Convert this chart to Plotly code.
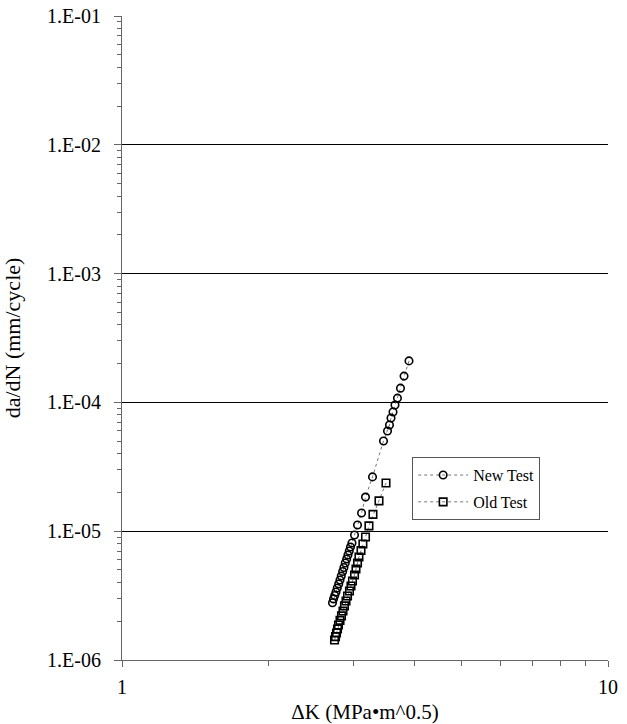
import plotly.graph_objects as go

# Fatigue crack growth rate data: stress intensity range vs growth rate
new_dk = [3.895, 3.805, 3.741, 3.688, 3.645, 3.611, 3.577, 3.551, 3.518, 3.452,
          3.277, 3.170, 3.111, 3.052, 3.009, 2.973, 2.952, 2.935, 2.917, 2.899,
          2.880, 2.862, 2.845, 2.826, 2.809, 2.792, 2.773, 2.756, 2.740, 2.724, 2.711]
new_dadn = [2.10e-4, 1.60e-4, 1.29e-4, 1.08e-4, 9.55e-5, 8.42e-5, 7.57e-5, 6.68e-5,
            6.00e-5, 5.02e-5, 2.64e-5, 1.84e-5, 1.385e-5, 1.117e-5, 9.34e-6,
            8.10e-6, 7.54e-6, 7.02e-6, 6.53e-6, 6.08e-6, 5.66e-6, 5.23e-6,
            4.87e-6, 4.49e-6, 4.18e-6, 3.89e-6, 3.62e-6, 3.37e-6, 3.17e-6,
            2.98e-6, 2.78e-6]

old_dk = [3.493, 3.379, 3.284, 3.222, 3.170, 3.131, 3.103, 3.073, 3.052, 3.030,
          3.009, 2.980, 2.959, 2.938, 2.911, 2.890, 2.869, 2.849, 2.829, 2.809,
          2.789, 2.776, 2.763, 2.750, 2.737]
old_dadn = [2.37e-5, 1.72e-5, 1.35e-5, 1.10e-5, 9.01e-6, 7.96e-6, 7.08e-6, 6.31e-6,
            5.66e-6, 5.09e-6, 4.57e-6, 4.11e-6, 3.75e-6, 3.43e-6, 3.14e-6, 2.87e-6,
            2.63e-6, 2.40e-6, 2.20e-6, 2.03e-6, 1.87e-6, 1.74e-6, 1.62e-6, 1.52e-6,
            1.43e-6]

y_tickvals = [1e-6, 1e-5, 1e-4, 1e-3, 1e-2, 1e-1]
y_ticktext = ["1.E-06", "1.E-05", "1.E-04", "1.E-03", "1.E-02", "1.E-01"]
x_tickvals = [1, 10]
x_ticktext = ["1", "10"]

FONT = "serif"

fig = go.Figure()
fig.add_trace(go.Scatter(
    x=new_dk, y=new_dadn, name="New Test", mode="lines+markers",
    legendgroup="a",
    line=dict(color="#777777", width=1, dash="dot"),
    marker=dict(symbol="circle-open", size=7.5, color="black", line=dict(width=1.6)),
))
fig.add_trace(go.Scatter(
    x=old_dk, y=old_dadn, name="Old Test", mode="lines+markers",
    legendgroup="b",
    line=dict(color="#777777", width=1, dash="dot"),
    marker=dict(symbol="square-open", size=7.5, color="black", line=dict(width=1.6)),
))

fig.update_layout(
    width=627, height=724,
    margin=dict(l=122, r=19, t=16, b=64),
    paper_bgcolor="white", plot_bgcolor="white",
    font=dict(family=FONT, color="black", size=20),
    legend=dict(
        x=0.597, y=0.315, xanchor="left", yanchor="top",
        bordercolor="#555555", borderwidth=1, bgcolor="white",
        font=dict(family=FONT, size=16, color="black"),
        traceorder="grouped", tracegroupgap=3,
        itemwidth=50,
    ),
)

fig.update_xaxes(
    type="log", range=[0, 1], automargin=False,
    tickmode="array", tickvals=x_tickvals, ticktext=x_ticktext,
    ticks="outside", ticklen=6, tickcolor="#666666", tickwidth=1,
    showline=True, linecolor="#666666", linewidth=1,
    showgrid=False, zeroline=False,
    minor=dict(ticks="outside", ticklen=5, tickcolor="#666666", dtick="D1", showgrid=False),
    title=dict(text="ΔK (MPa•m^0.5)", font=dict(family=FONT, size=21, color="black"), standoff=8),
    tickfont=dict(family=FONT, size=20, color="black"),
    ticklabelstandoff=3,
)
fig.update_yaxes(
    type="log", range=[-6, -1], automargin=False,
    tickmode="array", tickvals=y_tickvals, ticktext=y_ticktext,
    ticks="outside", ticklen=7, tickcolor="#666666", tickwidth=1,
    showline=True, linecolor="#666666", linewidth=1,
    showgrid=True, gridcolor="black", gridwidth=1, zeroline=False,
    minor=dict(ticks="outside", ticklen=4, tickcolor="#666666", dtick="D1", showgrid=False),
    title=dict(text="da/dN (mm/cycle)", font=dict(family=FONT, size=22, color="black"), standoff=21),
    tickfont=dict(family=FONT, size=20, color="black"),
    ticklabelstandoff=9,
)

fig.write_html("out.html")
